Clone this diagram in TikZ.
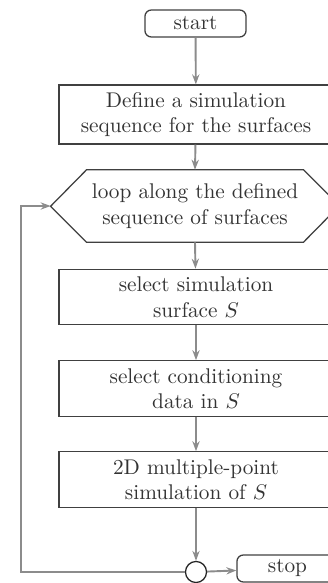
\documentclass[tikz,border=0pt]{standalone}
\usepackage{tikz}
\usetikzlibrary{arrows.meta}

\begin{document}
\begin{tikzpicture}[x=0.47pt,y=-0.47pt,
	terminal/.style={draw=black!75,rounded corners=3pt,line width=0.6pt,minimum width=47.5pt,minimum height=12.7pt,inner sep=0pt,text=black!80},
	process/.style={draw=black!75,line width=0.6pt,minimum width=128.8pt,minimum height=26pt,align=center,inner sep=0pt,text=black!80},
	flow/.style={draw=black!45,line width=0.9pt,-{Stealth[length=4.7pt,width=3.4pt]}}]
					% Fix the frame
					\useasboundingbox (0,0) rectangle (328,583);
					\clip (0,0) rectangle (328,583);
					% Place the steps
					\node[terminal] (start) at (195.5,23.5) {start};
					\node[process,minimum height=27.7pt] (define) at (196,114.5) {Define a simulation\\sequence for the surfaces};
					\node[align=center,inner sep=0pt,minimum width=101.5pt,minimum height=33.7pt,text=black!80] (loop) at (195,206) {loop along the defined\\sequence of surfaces};
					\node[process] (select) at (196,297) {select simulation\\surface $S$};
					\node[process] (cond) at (196,388.5) {select conditioning\\data in $S$};
					\node[process] (sim) at (196,479.5) {2D multiple-point\\simulation of $S$};
					\node[draw=black!85,circle,line width=0.6pt,minimum size=9.9pt,inner sep=0pt] (join) at (196,572) {};
					\node[terminal] (stop) at (287.5,568.5) {stop};
					% Hexagon round the loop node
					\draw[black!75,line width=0.6pt] (loop.north west) -- (loop.north east) -- ++(36,36) -- (loop.south east) -- (loop.south west) -- ++(-36,-36) -- cycle;
					\coordinate (looptip) at ([xshift=-16.9pt]loop.west);
					\coordinate (corner) at (21,572);
					% Connect the steps
					\draw[flow] (start) -- (define);
					\draw[flow] (define) -- (loop.north);
					\draw[flow] (loop.south) -- (select);
					\draw[flow] (select) -- (cond);
					\draw[flow] (cond) -- (sim);
					\draw[flow] (sim) -- (join);
					\draw[flow] (join) -- (stop);
					\draw[flow] (join.west) -- (corner) |- (looptip);
				\end{tikzpicture}
\end{document}
